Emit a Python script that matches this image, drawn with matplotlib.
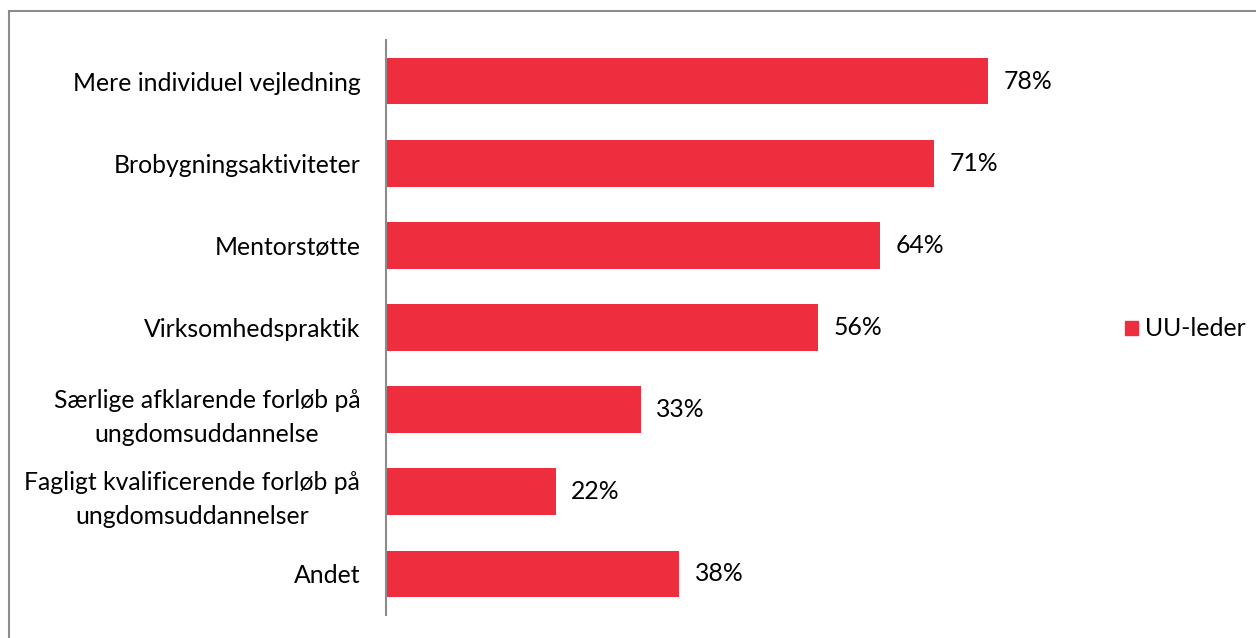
import matplotlib
matplotlib.use("Agg")
import matplotlib.pyplot as plt
from matplotlib.patches import Rectangle, Patch

# data
kategorier = [
    "Mere individuel vejledning",
    "Brobygningsaktiviteter",
    "Mentorstøtte",
    "Virksomhedspraktik",
    "Særlige afklarende forløb på\nungdomsuddannelse",
    "Fagligt kvalificerende forløb på\nungdomsuddannelser",
    "Andet",
]
andele = [78, 71, 64, 56, 33, 22, 38]
serie_navn = "UU-leder"

rod = "#EE2E3F"
fs = 17.8
plt.rcParams['font.family'] = ['Lato', 'DejaVu Sans']

fig = plt.figure(figsize=(12.56, 6.38), dpi=100)
W, H = 1256, 638
ax = fig.add_axes([386 / W, 1 - 615 / H, (1081 - 386) / W, (615 - 40) / H])

pos = list(range(len(kategorier)))
ax.barh(pos, andele, height=0.57, color=rod)
for p, v in zip(pos, andele):
    ax.text(v + 2.0, p, f"{v}%", va="center", ha="left", fontsize=fs)

ax.set_ylim(len(kategorier) - 0.5, -0.5)
ax.set_xlim(0, 90)
ax.set_yticks(pos)
ax.set_yticklabels(kategorier, fontsize=fs, ha="right", multialignment="center",
                   linespacing=1.6)
ax.tick_params(axis="y", length=0, pad=18.5)
ax.set_xticks([])
for s in ["top", "right", "bottom"]:
    ax.spines[s].set_visible(False)
ax.spines["left"].set_color("#8c8c8c")
ax.spines["left"].set_linewidth(1.5)

# legende
fig.legend(handles=[Patch(color=rod, label=serie_navn)], loc="center left",
           bbox_to_anchor=(1103 / W, 1 - 329 / H), frameon=False, fontsize=fs,
           handlelength=0.5, handleheight=0.5, handletextpad=0.3)

# ramme
fig.patches.append(Rectangle((9 / W, -0.1), 1.2, 1 - 11 / H + 0.1, transform=fig.transFigure,
                             fill=False, edgecolor="#8c8c8c", linewidth=1.5))

fig.savefig("out.png", dpi=100)
